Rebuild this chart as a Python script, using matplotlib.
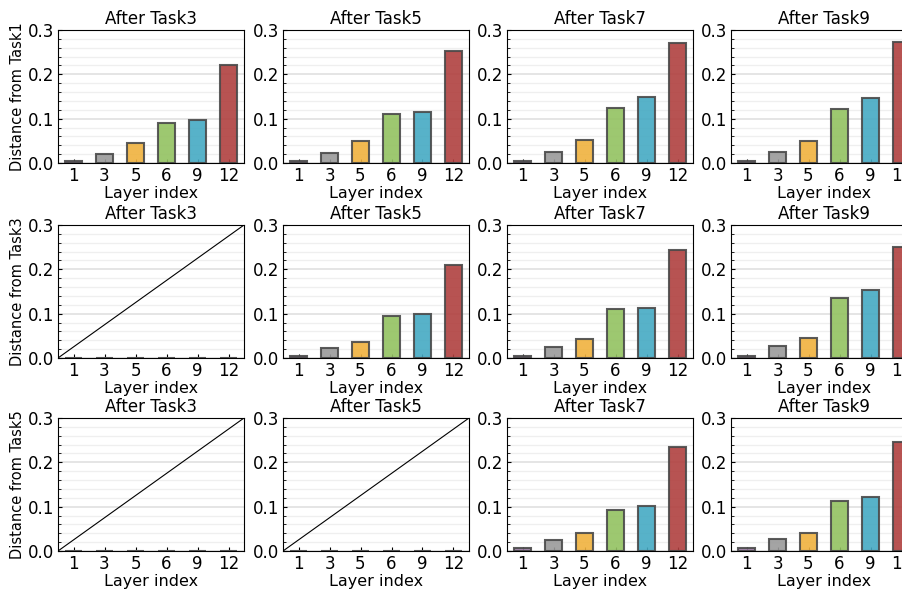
import matplotlib.pyplot as plt
from matplotlib.ticker import MultipleLocator

layers = ['1', '3', '5', '6', '9', '12']
colors = ['#9a7ba3', '#9a9a9a', '#f0b23e', '#93c261', '#45aac3', '#b0403f']
row_labels = ['Distance from Task1', 'Distance from Task3', 'Distance from Task5']
col_titles = ['After Task3', 'After Task5', 'After Task7', 'After Task9']

# distance values per subplot (None = empty panel)
from_task1 = [
    [0.005, 0.020, 0.046, 0.090, 0.098, 0.221],
    [0.005, 0.022, 0.050, 0.110, 0.115, 0.252],
    [0.005, 0.024, 0.053, 0.125, 0.150, 0.270],
    [0.005, 0.024, 0.050, 0.122, 0.146, 0.273],
]
from_task3 = [
    None,
    [0.004, 0.022, 0.035, 0.094, 0.099, 0.210],
    [0.005, 0.025, 0.042, 0.110, 0.112, 0.243],
    [0.005, 0.026, 0.046, 0.135, 0.153, 0.250],
]
from_task5 = [
    None,
    None,
    [0.006, 0.024, 0.040, 0.092, 0.102, 0.234],
    [0.006, 0.027, 0.040, 0.113, 0.121, 0.246],
]
all_rows = [from_task1, from_task3, from_task5]

W, H = 902, 589
fig = plt.figure(figsize=(W / 100, H / 100), dpi=100)

lefts = [58, 283, 507, 731]
tops = [30, 225, 418]
aw, ah = 186, 133

for r in range(3):
    for c in range(4):
        ax = fig.add_axes([lefts[c] / W, 1 - (tops[r] + ah) / H, aw / W, ah / H])
        vals = all_rows[r][c]
        x = range(len(layers))
        if vals is None:
            ax.bar(x, [0] * len(layers), width=0.55, color=colors,
                   edgecolor='#4a4a4a', linewidth=1.5, alpha=0.9)
            ax.plot([0, 1], [0, 1], color='black', linewidth=0.8,
                    transform=ax.transAxes)
        else:
            ax.bar(x, vals, width=0.55, color=colors,
                   edgecolor='#4a4a4a', linewidth=1.5, alpha=0.9)
        ax.set_xlim(-0.5, 5.5)
        ax.set_ylim(0, 0.3)
        ax.set_xticks(list(x))
        ax.set_xticklabels(layers)
        ax.yaxis.set_major_locator(MultipleLocator(0.1))
        ax.yaxis.set_minor_locator(MultipleLocator(0.02))
        ax.grid(axis='y', which='major', color='#e0e0e0', linewidth=1.2)
        ax.grid(axis='y', which='minor', color='#efefef', linewidth=0.9)
        ax.set_axisbelow(True)
        ax.tick_params(direction='in', labelsize=12, length=3, pad=3)
        ax.tick_params(which='minor', direction='in', length=2)
        ax.set_title(col_titles[c], fontsize=12, pad=4)
        ax.set_xlabel('Layer index', fontsize=11.5, labelpad=0.5)
        if c == 0:
            ax.set_ylabel(row_labels[r], fontsize=10.5, labelpad=2)

fig.savefig('out.png', dpi=100)
